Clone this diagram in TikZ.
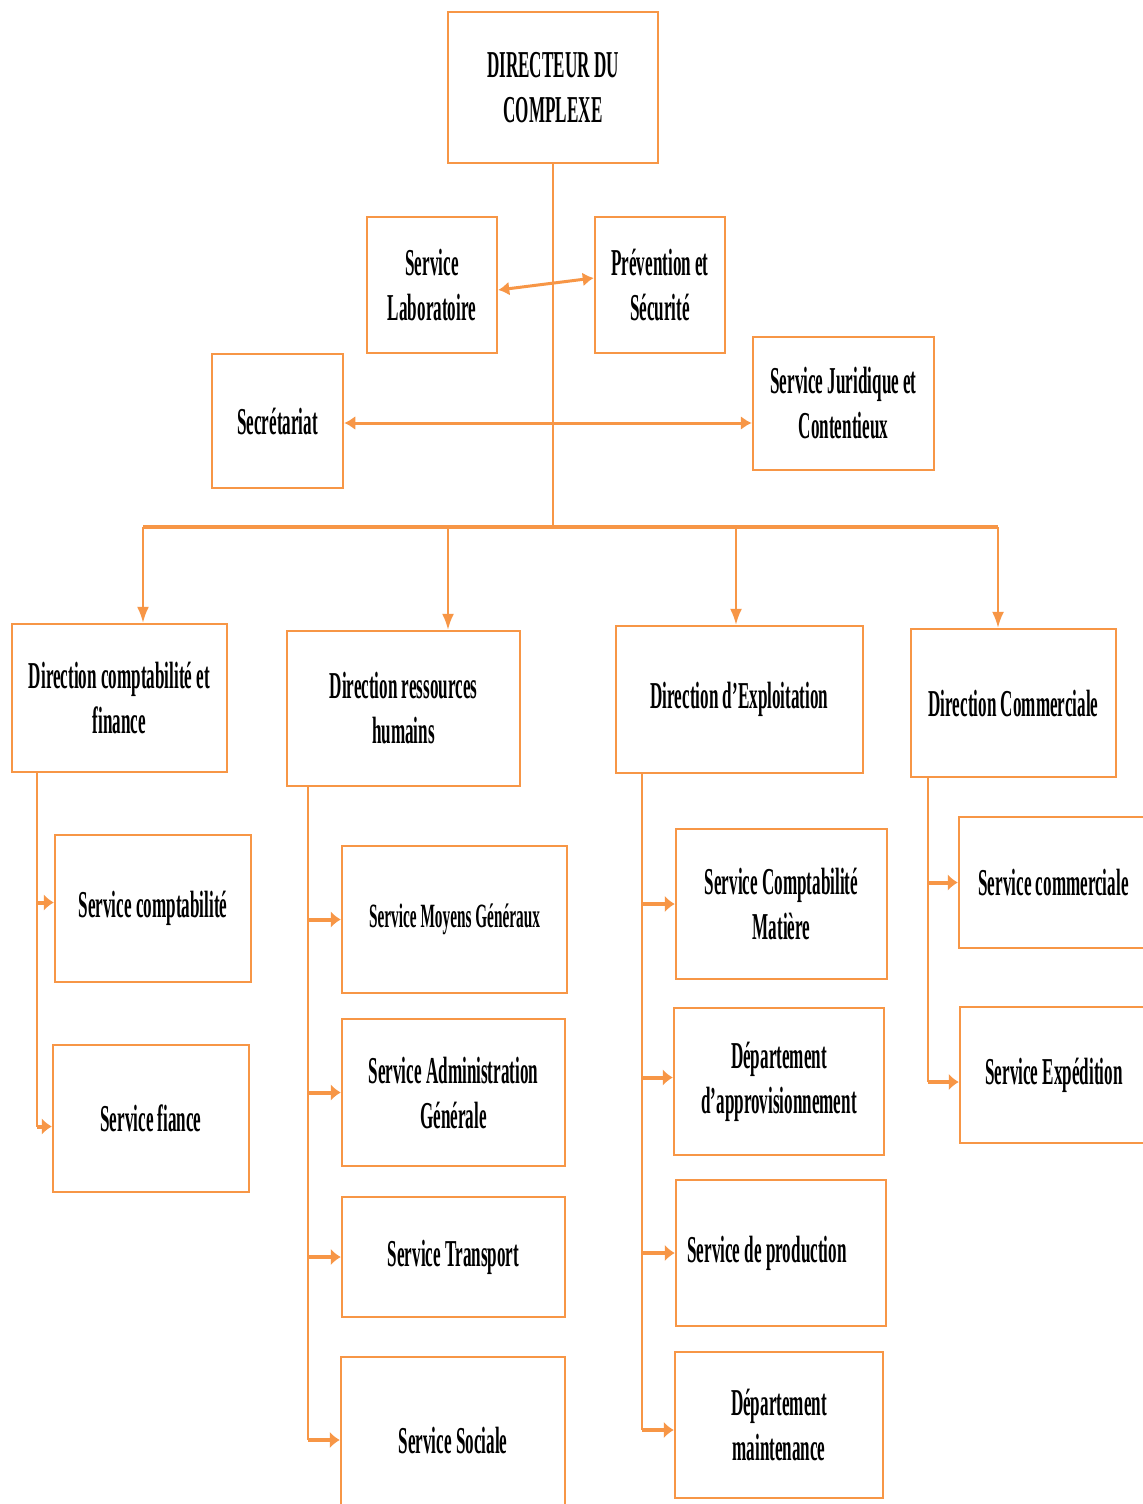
\documentclass[tikz,border=0pt]{standalone}
\usepackage{fontspec}
\setmainfont[FakeStretch=0.45]{Liberation Serif}
\usetikzlibrary{arrows.meta,calc}
\definecolor{org}{RGB}{247,150,70}

% box given by its corners (x1,y1) (x2,y2) in picture units
\newcommand\orgbox[7][]{%
  \node[box,#1,minimum width={(#4-#2)*0.5pt},minimum height={(#5-#3)*0.5pt}]
    (#6) at ({(#2+#4)/2},{(#3+#5)/2}) {#7};}

\begin{document}
\begin{tikzpicture}[x=0.5pt,y=-0.5pt,
  box/.style={draw=org,line width=1.25pt,align=center,inner sep=0pt,
    font=\fontsize{19}{22.5}\selectfont\bfseries},
  small/.style={font=\fontsize{17}{21}\selectfont\bfseries},
  thinline/.style={draw=org,line width=1pt},
  busline/.style={draw=org,line width=2pt},
  drop/.style={draw=org,line width=1pt,-{Latex[length=8pt,width=6pt]}},
  side/.style={draw=org,line width=2pt,-{Latex[length=5pt,width=8.5pt]}},
  dbl/.style={draw=org,line width=1.5pt,{Latex[length=5.5pt,width=7pt]}-{Latex[length=5.5pt,width=7pt]}}]
\useasboundingbox[fill=white] (0,0) rectangle (1142,1504);

% top level
\orgbox{448}{12}{658}{163}{dir}{DIRECTEUR DU\\COMPLEXE}
\orgbox{367}{217}{497}{353}{lab}{Service\\Laboratoire}
\orgbox{595}{217}{725}{353}{prev}{Prévention et\\Sécurité}
\orgbox{212}{354}{343}{488}{sec}{Secrétariat}
\orgbox{753}{337}{934}{470}{jur}{Service Juridique et\\Contentieux}

% directions
\orgbox{12}{624}{227}{772}{dcf}{Direction comptabilité et\\finance}
\orgbox{287}{631}{520}{786}{drh}{Direction ressources\\humains}
\orgbox{616}{626}{863}{773}{dex}{Direction d’Exploitation}
\orgbox{911}{629}{1116}{777}{dco}{Direction Commerciale}

% services
\orgbox{55}{835}{251}{982}{scp}{Service comptabilité}
\orgbox{53}{1045}{249}{1192}{sfi}{Service fiance}

\orgbox[small]{342}{846}{567}{993}{smg}{Service Moyens Généraux}
\orgbox{342}{1019}{565}{1166}{sag}{Service Administration\\Générale}
\orgbox{342}{1197}{565}{1317}{str}{Service Transport}
\orgbox{341}{1357}{565}{1523}{sso}{Service Sociale}

\orgbox{676}{829}{887}{979}{scm}{Service Comptabilité\\Matière}
\orgbox{674}{1008}{884}{1155}{dap}{Département\\d’approvisionnement}
\orgbox{676}{1180}{886}{1326}{spr}{\hspace*{-14pt}Service de production}
\orgbox{675}{1352}{883}{1498}{dmt}{Département\\maintenance}

\orgbox{959}{817}{1148}{948}{sco}{Service commerciale}
\orgbox{960}{1007}{1148}{1143}{sex}{Service Expédition}

% main trunk and bus
\coordinate (bus) at (553,527);
\coordinate (busL) at (143,527);
\coordinate (busR) at (998,527);
\coordinate (b1) at (143,527);
\coordinate (b2) at (448,527);
\coordinate (b3) at (736,527);
\coordinate (b4) at (998,527);
\draw[thinline] (dir.south -| bus) -- (bus);
\draw[busline] (busL) -- (busR);

% staff links
\draw[dbl] ($(lab.east)+(0,5)$) -- ($(prev.west)+(0,-7)$);
\draw[dbl] ($(sec.east)+(0,2)$) -- ($(sec.east -| jur.west)+(0,2)$);

% drops to directions
\draw[drop] (b1) -- (b1 |- dcf.north);
\draw[drop] (b2) -- (b2 |- drh.north);
\draw[drop] (b3) -- (b3 |- dex.north);
\draw[drop] (b4) -- (b4 |- dco.north);

% branch under each direction
\coordinate (t1) at (37,0);
\coordinate (t2) at (308,0);
\coordinate (t3) at (642,0);
\coordinate (t4) at (928,0);

\draw[thinline] (dcf.south -| t1) -- ($(sfi.west -| t1)+(0,8)$);
\draw[side] ($(scp.west -| t1)+(0,-6)$) -- ($(scp.west)+(0,-6)$);
\draw[side] ($(sfi.west -| t1)+(0,8)$) -- ($(sfi.west)+(0,8)$);

\draw[thinline] (drh.south -| t2) -- (sso.west -| t2);
\draw[side] (smg.west -| t2) -- (smg.west);
\draw[side] (sag.west -| t2) -- (sag.west);
\draw[side] (str.west -| t2) -- (str.west);
\draw[side] (sso.west -| t2) -- (sso.west);

\draw[thinline] (dex.south -| t3) -- ($(dmt.west -| t3)+(0,5)$);
\draw[side] (scm.west -| t3) -- (scm.west);
\draw[side] ($(dap.west -| t3)+(0,-4)$) -- ($(dap.west)+(0,-4)$);
\draw[side] (spr.west -| t3) -- (spr.west);
\draw[side] ($(dmt.west -| t3)+(0,5)$) -- ($(dmt.west)+(0,5)$);

\draw[thinline] (dco.south -| t4) -- ($(sex.west -| t4)+(0,7)$);
\draw[side] (sco.west -| t4) -- (sco.west);
\draw[side] ($(sex.west -| t4)+(0,7)$) -- ($(sex.west)+(0,7)$);
\end{tikzpicture}
\end{document}
